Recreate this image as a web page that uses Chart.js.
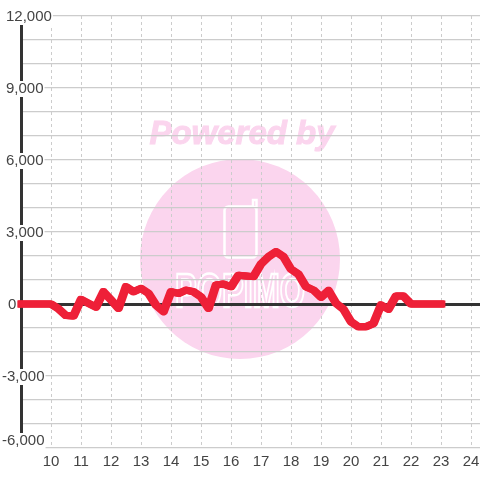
<!DOCTYPE html>
<html>
<head>
<meta charset="utf-8">
<style>
html, body { margin: 0; padding: 0; background: #fff; }
#wrap { width: 480px; height: 480px; }
</style>
<script src="https://cdn.jsdelivr.net/npm/chart.js@4"></script>
</head>
<body>
<div id="wrap"><canvas id="chart" width="480" height="480"></canvas></div>
<script>
// one reading per quarter hour, 9:00 to 23:00
const hours = [9, 9.25, 9.5, 9.75, 10, 10.25, 10.5, 10.75, 11, 11.25, 11.5, 11.75, 12, 12.25, 12.5, 12.75,
	13, 13.25, 13.5, 13.75, 14, 14.25, 14.5, 14.75, 15, 15.25, 15.5, 15.75, 16, 16.25, 16.5, 16.75,
	17, 17.25, 17.5, 17.75, 18, 18.25, 18.5, 18.75, 19, 19.25, 19.5, 19.75, 20, 20.25, 20.5, 20.75,
	21, 21.25, 21.5, 21.75, 22, 22.25, 22.5, 22.75, 23];
const values = [0, 0, 0, 0, 0, -200, -480, -500, 190, 30, -130, 510, 170, -180, 720, 510,
	650, 440, -50, -320, 510, 440, 580, 510, 300, -180, 790, 830, 720, 1200, 1170, 1140,
	1670, 1970, 2180, 1970, 1450, 1240, 720, 580, 280, 560, 30, -220, -740, -950, -950, -810,
	-40, -220, 330, 330, 0, 0, 0, 0, 0];
const xTicks = [10, 11, 12, 13, 14, 15, 16, 17, 18, 19, 20, 21, 22, 23, 24];
const yLabelled = [12000, 9000, 6000, 3000, 0, -3000, -6000];

const fontName = '"Liberation Sans", Arial, sans-serif';

// the original pen is wider than tall, so the line is stroked three times side by side
const penShift = [-0.03, 0, 0.03];

// pink logo behind the grid
const watermark = {
	id: 'watermark',
	beforeDraw(chart) {
		const c = chart.ctx;
		c.save();
		c.fillStyle = '#fbd5ee';
		c.beginPath();
		c.arc(240, 259, 100, 0, Math.PI * 2);
		c.fill();
		c.font = 'italic bold 33px ' + fontName;
		c.textAlign = 'center';
		c.textBaseline = 'middle';
		c.strokeStyle = '#fbd5ee';
		c.lineWidth = 1;
		c.fillText('Powered by', 242, 135);
		c.strokeText('Powered by', 242, 135);
		c.strokeStyle = '#fff';
		c.lineWidth = 2.5;
		c.beginPath();
		c.roundRect(224.5, 206.5, 32, 51, 4);
		c.moveTo(253, 206.5);
		c.lineTo(253, 200);
		c.lineTo(256.5, 200);
		c.lineTo(256.5, 210);
		c.stroke();
		c.font = 'bold 48px ' + fontName;
		c.lineWidth = 2.5;
		c.textBaseline = 'alphabetic';
		c.strokeText('POPIMO', 240, 307, 130);
		c.restore();
	}
};

// y labels sit left aligned over the axis line, with a white box behind them
const yLabels = {
	id: 'yLabels',
	afterDraw(chart) {
		const c = chart.ctx;
		const y = chart.scales.y;
		c.save();
		c.font = '15px ' + fontName;
		c.textBaseline = 'middle';
		c.textAlign = 'left';
		yLabelled.forEach(function(v) {
			const t = v.toLocaleString('en-US');
			const left = v < 0 ? 2 : (v == 0 ? 8 : 6);
			const py = y.getPixelForValue(v) + (v == -6000 ? -7 : 1);
			const w = c.measureText(t).width;
			c.fillStyle = '#fff';
			c.fillRect(left - 1, py - 8, w + 2, 16);
			c.fillStyle = '#444';
			c.fillText(t, left, py);
		});
		c.restore();
	}
};

new Chart(document.getElementById('chart'), {
	type: 'line',
	data: {
		datasets: penShift.map(function(s) {
			return {
				data: hours.map(function(h, i) { return { x: h + s, y: values[i] }; }),
				borderColor: '#ee2038',
				borderWidth: 7,
				borderCapStyle: 'square',
				borderJoinStyle: 'round',
				pointRadius: 0,
				tension: 0,
				clip: false
			};
		})
	},
	options: {
		responsive: false,
		animation: false,
		events: [],
		layout: { padding: { top: 16, left: 0, right: 0, bottom: 0 } },
		plugins: { legend: { display: false }, title: { display: false }, tooltip: { enabled: false } },
		scales: {
			x: {
				type: 'linear',
				min: 9,
				max: 24.3,
				afterBuildTicks: function(axis) { axis.ticks = xTicks.map(function(v) { return { value: v }; }); },
				afterFit: function(axis) { axis.height = 32; axis.paddingLeft = 0; axis.paddingRight = 0; },
				border: { display: false, dash: [3, 3] },
				grid: {
					color: '#cccccc',
					lineWidth: 1,
					drawTicks: false
				},
				ticks: {
					color: '#444',
					font: { family: fontName, size: 15 },
					autoSkip: false,
					maxRotation: 0,
					padding: 5,
					callback: function(v) { return v; }
				}
			},
			y: {
				type: 'linear',
				min: -6000,
				max: 12000,
				afterFit: function(axis) { axis.width = 21; axis.paddingTop = 0; axis.paddingBottom = 0; },
				border: { display: true, color: '#333', width: 3 },
				grid: {
					color: function(ctx) { return ctx.tick.value === 0 ? '#333' : '#cccccc'; },
					lineWidth: function(ctx) { return ctx.tick.value === 0 ? 3 : 1.2; },
					drawTicks: false
				},
				ticks: { stepSize: 1000, display: false }
			}
		}
	},
	plugins: [watermark, yLabels]
});
</script>
</body>
</html>
